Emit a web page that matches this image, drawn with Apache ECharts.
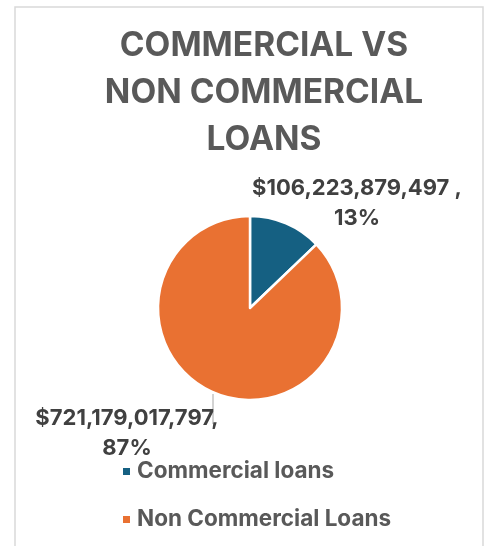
<!DOCTYPE html>
<html>
<head>
<meta charset="utf-8">
<script src="https://cdn.jsdelivr.net/npm/echarts@6/dist/echarts.min.js"></script>
<style>
  html, body { margin: 0; padding: 0; background: #ffffff; }
  #chart { width: 489px; height: 546px; }
</style>
</head>
<body>
<div id="chart"></div>
<script>
// Loan portfolio split
const categories = ['Commercial loans', 'Non Commercial Loans'];
const amounts = [106223879497, 721179017797];
const colors = ['#156082', '#E97132'];

const FONT = 'Inter, "Open Sans", sans-serif';

function money(v) {
  return '$' + v.toLocaleString('en-US');
}

const chart = echarts.init(document.getElementById('chart'), null, { renderer: 'canvas' });

const pieData = categories.map((name, i) => ({
  name: name,
  value: amounts[i],
  itemStyle: { color: colors[i] }
}));

chart.setOption({
  animation: false,
  backgroundColor: '#ffffff',
  graphic: [{
    type: 'rect',
    shape: { x: 15, y: 7, width: 468, height: 600 },
    style: { fill: 'none', stroke: '#d9d9d9', lineWidth: 1.5 },
    silent: true,
    z: -1
  }],
  title: {
    text: 'COMMERCIAL VS\nNON COMMERCIAL\nLOANS',
    left: 259,
    top: 17,
    textAlign: 'center',
    textStyle: {
      fontFamily: FONT,
      fontSize: 33.5,
      fontWeight: 'bold',
      color: '#595959',
      lineHeight: 47
    }
  },
  legend: {
    orient: 'vertical',
    left: 116,
    top: 455,
    icon: 'rect',
    itemWidth: 9,
    itemHeight: 9,
    itemGap: 25,
    textStyle: {
      fontFamily: FONT,
      fontSize: 22.5,
      fontWeight: 'bold',
      color: '#595959',
      padding: [0, 0, 0, 1]
    },
    data: categories
  },
  series: [{
    type: 'pie',
    center: [250, 308],
    radius: [0, 92],
    startAngle: 90,
    clockwise: true,
    itemStyle: { borderColor: '#ffffff', borderWidth: 2.5 },
    label: {
      show: true,
      position: 'outside',
      overflow: 'none',
      fontFamily: FONT,
      fontSize: 22,
      fontWeight: 'bold',
      color: '#404040',
      lineHeight: 30,
      align: 'center',
      formatter: function (p) {
        const sep = p.dataIndex === 0 ? ' ,' : ',';
        return money(p.value) + sep + '\n' + Math.round(p.percent) + '%';
      }
    },
    labelLine: {
      show: true,
      length: 8,
      length2: 0,
      lineStyle: { color: '#a6a6a6', width: 1 }
    },
    labelLayout: function (params) {
      if (params.dataIndex === 0) {
        return { x: 357, y: 203, align: 'center', verticalAlign: 'middle', labelLinePoints: [[0, 0], [0, 0], [0, 0]] };
      }
      return {
        x: 127, y: 433, align: 'center', verticalAlign: 'middle',
        labelLinePoints: [[213, 394], [213, 424], [213, 424]]
      };
    },
    data: pieData
  }]
});
</script>
</body>
</html>
